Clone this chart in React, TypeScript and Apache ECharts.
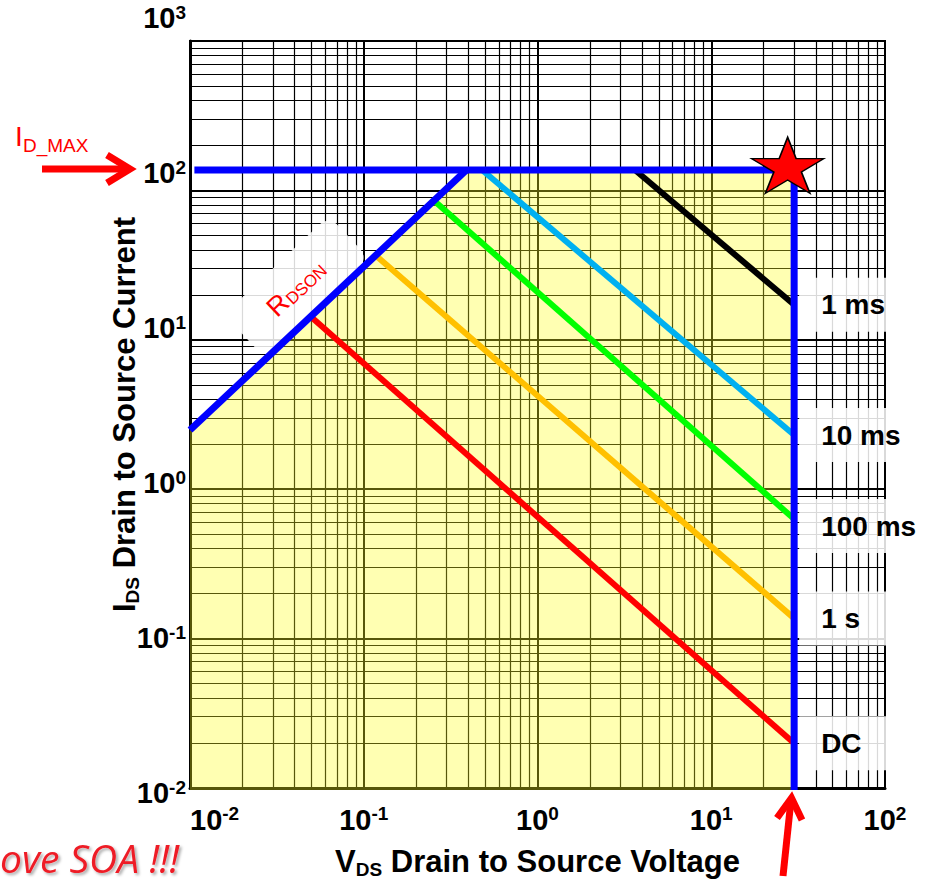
import React, { useEffect, useRef } from 'react';
import * as echarts from 'echarts';

// ---------- data ----------
const xDecades = [0.01, 0.1, 1, 10, 100];
const yDecades = [0.01, 0.1, 1, 10, 100, 1000];
const gridMultipliers = [1, 2, 3, 4, 5, 6, 7, 8, 9];

// SOA envelope (A vs V)
const soaBoundary = [[0.01, 2.1], [0.39, 100], [30, 100], [30, 0.01]];
const rdsonLine = [[0.01, 2.1], [0.39, 100]];
const idMaxVdsLine = [[0.0106, 100], [30, 100], [30, 0.01]];

const pulseNames = ['1 ms', '10 ms', '100 ms', '1 s', 'DC'];
const pulseStart = [[3.64, 100], [0.48, 100], [0.26, 62], [0.12, 27.5], [0.051, 11]];
const pulseEnd = [[30, 13.5], [30, 1.95], [30, 0.56], [30, 0.128], [30, 0.02]];
const ratedPoint = [[30, 100]];

// ---------- styles ----------
const pulseColors = ['#000000', '#00B0F0', '#00FF00', '#FFC000', '#FF0000'];
const endLabelNudgeY = [0, 0, 7, 0, 0];
const FONT = '"Liberation Sans", Arial, Helvetica, sans-serif';
const STAR =
  'path://M50,0 L61.23,34.55 L97.55,34.55 L68.17,55.9 L79.39,90.45 L50,69.1 L20.61,90.45 L31.83,55.9 L2.45,34.55 L38.77,34.55 Z';

const expLabel = (v: number) => `{b|10}{s|${Math.round(Math.log10(v))}}`;
const tickRich = {
  b: { fontSize: 29, fontWeight: 'bold', fontFamily: FONT, color: '#000', lineHeight: 31 },
  s: { fontSize: 19, fontWeight: 'bold', fontFamily: FONT, color: '#000', lineHeight: 14, verticalAlign: 'top' },
};
const titleRich = {
  m: { fontSize: 31, fontWeight: 'bold', fontFamily: FONT, color: '#000', lineHeight: 36 },
  s: { fontSize: 19, fontWeight: 'bold', fontFamily: FONT, color: '#000', lineHeight: 12, verticalAlign: 'bottom' },
};

function buildGridLines() {
  const items: any[] = [];
  xDecades.slice(0, -1).forEach((d) =>
    gridMultipliers.forEach((m) => {
      const v = parseFloat((d * m).toPrecision(3));
      if (v > xDecades[0] && v < xDecades[xDecades.length - 1])
        items.push({ xAxis: v, lineStyle: { width: m === 1 ? 2 : 1.2, color: '#000', type: 'solid' } });
    })
  );
  yDecades.slice(0, -1).forEach((d) =>
    gridMultipliers.forEach((m) => {
      const v = parseFloat((d * m).toPrecision(3));
      if (v > yDecades[0] && v < yDecades[yDecades.length - 1])
        items.push({ yAxis: v, lineStyle: { width: m === 1 ? 2 : 1.2, color: '#000', type: 'solid' } });
    })
  );
  return items;
}

function buildOption(): any {
  const pulseSeries = pulseNames.map((name, i) => ({
    type: 'line',
    name,
    xAxisIndex: 1,
    yAxisIndex: 1,
    data: [pulseStart[i], pulseEnd[i]],
    symbol: 'none',
    showSymbol: false,
    silent: true,
    z: 4,
    lineStyle: { color: pulseColors[i], width: 6, cap: 'butt' },
    emphasis: { disabled: true },
    endLabel: {
      show: true,
      formatter: name,
      distance: 5,
      offset: [0, endLabelNudgeY[i]],
      color: '#000',
      fontFamily: FONT,
      fontWeight: 'bold',
      fontSize: 28,
      lineHeight: 30,
      width: 62,
      backgroundColor: 'rgba(255,255,255,0.85)',
      padding: [12, 4, 12, 22],
    },
  }));

  return {
    animation: false,
    backgroundColor: '#fff',
    grid: [
      { left: 190, right: 55, top: 41, bottom: 92, show: true, borderColor: '#000', borderWidth: 2, backgroundColor: 'transparent' },
      { left: 190, right: 55, top: 15, bottom: 94, show: false },
    ],
    xAxis: [
      {
        type: 'log',
        logBase: 10,
        gridIndex: 0,
        min: xDecades[0],
        max: xDecades[xDecades.length - 1],
        axisLine: { show: true, lineStyle: { color: '#000', width: 3 } },
        axisTick: { show: false },
        splitLine: { show: false },
        axisLabel: {
          formatter: expLabel,
          rich: tickRich,
          margin: 16,
          alignMinLabel: 'left',
          showMinLabel: true,
          showMaxLabel: true,
        },
        name: '{m|V}{s|DS}{m| Drain to Source Voltage}',
        nameLocation: 'middle',
        nameGap: 55,
        nameTextStyle: { rich: titleRich },
      },
      {
        type: 'log',
        logBase: 10,
        gridIndex: 1,
        min: xDecades[0],
        max: xDecades[xDecades.length - 1],
        show: false,
      },
    ],
    yAxis: [
      {
        type: 'log',
        logBase: 10,
        gridIndex: 0,
        min: yDecades[0],
        max: yDecades[yDecades.length - 1],
        axisLine: { show: true, lineStyle: { color: '#000', width: 3 } },
        axisTick: { show: false },
        axisLabel: { show: false },
        splitLine: { show: false },
        name: '{m|I}{s|DS}{m| Drain to Source Current}',
        nameLocation: 'middle',
        nameRotate: 90,
        nameGap: 48,
        nameTextStyle: { rich: titleRich },
      },
      {
        type: 'log',
        logBase: 10,
        gridIndex: 1,
        min: yDecades[0],
        max: yDecades[yDecades.length - 1],
        axisLine: { show: false },
        axisTick: { show: false },
        splitLine: { show: false },
        axisLabel: {
          formatter: expLabel,
          rich: tickRich,
          margin: 4,
          padding: [6, 0, 0, 0],
          showMinLabel: true,
          showMaxLabel: true,
        },
      },
    ],
    series: [
      {
        type: 'line',
        name: 'grid',
        xAxisIndex: 0,
        yAxisIndex: 0,
        data: [[1, 1]],
        symbol: 'none',
        showSymbol: false,
        silent: true,
        lineStyle: { width: 0, opacity: 0 },
        z: 1,
        markLine: {
          z: 1,
          silent: true,
          symbol: 'none',
          label: { show: false },
          lineStyle: { type: 'solid', color: '#000' },
          emphasis: { disabled: true },
          animation: false,
          data: buildGridLines(),
        },
      },
      {
        type: 'line',
        name: 'SOA',
        xAxisIndex: 1,
        yAxisIndex: 1,
        data: soaBoundary,
        symbol: 'none',
        showSymbol: false,
        silent: true,
        z: 2,
        lineStyle: { width: 0, opacity: 0 },
        areaStyle: { color: 'rgb(255,255,30)', opacity: 0.34, origin: 'start' },
      },
      ...pulseSeries,
      {
        type: 'line',
        name: 'RDSON',
        xAxisIndex: 1,
        yAxisIndex: 1,
        data: rdsonLine,
        symbol: 'none',
        showSymbol: false,
        silent: true,
        z: 6,
        lineStyle: { color: '#0000FF', width: 7, cap: 'butt' },
      },
      {
        type: 'line',
        name: 'ID_MAX / VDS_MAX',
        xAxisIndex: 1,
        yAxisIndex: 1,
        data: idMaxVdsLine,
        symbol: 'none',
        showSymbol: false,
        silent: true,
        z: 6,
        lineStyle: { color: '#0000FF', width: 7, cap: 'butt', join: 'miter' },
      },
      {
        type: 'scatter',
        name: 'rated',
        xAxisIndex: 1,
        yAxisIndex: 1,
        data: ratedPoint,
        symbol: STAR,
        symbolSize: [72, 56],
        symbolKeepAspect: false,
        symbolOffset: [-6.5, -4.7],
        silent: true,
        z: 10,
        itemStyle: { color: '#FF0000', borderColor: '#000', borderWidth: 1.5, opacity: 1 },
      },
    ],
    graphic: [
      // I_D_MAX label and arrow
      { type: 'text', z: 20, x: 15, y: 136, style: { text: 'I', fill: '#FF0000', font: `28px ${FONT}`, verticalAlign: 'middle' } },
      { type: 'text', z: 20, x: 23, y: 145, style: { text: 'D_MAX', fill: '#FF0000', font: `19px ${FONT}`, verticalAlign: 'middle' } },
      { type: 'line', z: 20, shape: { x1: 42, y1: 169, x2: 127, y2: 169 }, style: { stroke: '#FF0000', lineWidth: 7 } },
      { type: 'polyline', z: 20, shape: { points: [[107, 155], [130, 169], [107, 183]] }, style: { stroke: '#FF0000', lineWidth: 7, fill: null, lineJoin: 'miter' } },
      // bottom arrow at VDS max
      { type: 'line', z: 20, shape: { x1: 783, y1: 876, x2: 791, y2: 800 }, style: { stroke: '#FF0000', lineWidth: 7 } },
      { type: 'polyline', z: 20, shape: { points: [[777, 818], [791.5, 798], [802, 820]] }, style: { stroke: '#FF0000', lineWidth: 7, fill: null, lineJoin: 'miter' } },
      // RDSON label
      {
        type: 'group',
        x: 297,
        y: 287,
        rotation: 0.755,
        z: 3,
        children: [
          { type: 'rect', z: 3, shape: { x: -72, y: -30, width: 144, height: 58, r: 12 }, style: { fill: 'rgba(255,255,255,0.85)' } },
          { type: 'text', z: 5, x: -36, y: 0, style: { text: 'R', fill: '#FF0000', font: `27px ${FONT}`, verticalAlign: 'middle' } },
          { type: 'text', z: 5, x: -16, y: 5, style: { text: 'DSON', fill: '#FF0000', font: `17px ${FONT}`, verticalAlign: 'middle' } },
        ],
      },
      // cut-off warning text
      {
        type: 'text',
        z: 20,
        x: 0,
        y: 857,
        style: {
          text: 'ove SOA !!!',
          fill: '#EE1C25',
          font: `italic 39px "Open Sans", ${FONT}`,
          verticalAlign: 'middle',
          textShadowColor: 'rgba(0,0,0,0.35)',
          textShadowBlur: 3,
          textShadowOffsetX: 2,
          textShadowOffsetY: 2,
        },
      },
    ],
  };
}

export default function App() {
  const ref = useRef<HTMLDivElement>(null);
  useEffect(() => {
    if (!ref.current) return;
    const chart = echarts.init(ref.current, null, { renderer: 'svg' });
    chart.setOption(buildOption());
    return () => chart.dispose();
  }, []);
  return <div ref={ref} style={{ position: 'absolute', left: 0, top: 0, width: 940, height: 884 }} />;
}
